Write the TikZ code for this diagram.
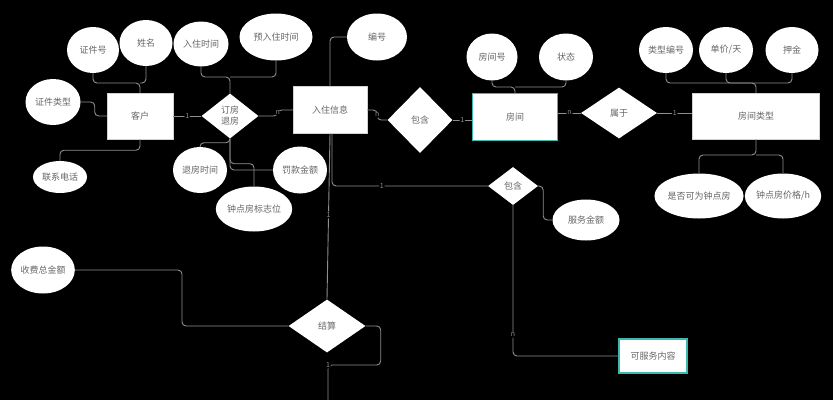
\documentclass[tikz,border=0pt]{standalone}
\usepackage{fontspec}
\setmainfont{Noto Sans CJK SC}
\usepackage{tikz}
\usetikzlibrary{shapes.geometric,positioning}

\definecolor{linegray}{HTML}{8E8E8E}
\definecolor{textgray}{HTML}{666666}
\definecolor{tealline}{HTML}{3DB8AE}

\begin{document}
\begin{tikzpicture}[
		x=1pt, y=-1pt,
		every node/.style={font=\fontsize{9}{11}\selectfont, text=textgray},
		entity/.style={draw=gray!35, fill=white, inner sep=0pt},
		keyentity/.style={entity, draw=tealline, line width=1.2pt},
		relation/.style={diamond, fill=white, inner sep=0pt, align=center},
		attribute/.style={ellipse, fill=white, inner sep=0pt},
		conn/.style={draw=linegray, line width=0.9pt, rounded corners=4pt},
		card/.style={fill=black, text=linegray, font=\fontsize{7}{8}\selectfont, inner sep=1pt}
	]
		\fill[black] (0,0) rectangle (833,400);
		\useasboundingbox (0,0) rectangle (833,400);

		% entities and relations
		\node[entity, minimum width=66pt, minimum height=46pt] (kehu) at (140,116) {客户};
		\node[relation, minimum width=57pt, minimum height=45pt] (dingfang) at (230,116) {订房\\退房};
		\node[entity, minimum width=74pt, minimum height=47pt] (ruzhu) at (330,110) {入住信息};
		\node[relation, minimum width=65pt, minimum height=66pt] (baohanA) at (420,120) {包含};
		\node[keyentity, minimum width=85pt, minimum height=47pt] (fangjian) at (515,117) {房间};
		\node[relation, minimum width=76pt, minimum height=51pt] (shuyu) at (619,113) {属于};
		\node[entity, minimum width=127pt, minimum height=46pt] (leixing) at (756,116) {房间类型};
		\node[relation, minimum width=50pt, minimum height=38pt] (baohanB) at (513,186) {包含};
		\node[relation, minimum width=77pt, minimum height=53pt] (jiesuan) at (327,326) {结算};
		\node[keyentity, minimum width=68pt, minimum height=34pt] (fuwu) at (653,356) {可服务内容};

		% attributes
		\node[attribute, minimum width=52pt, minimum height=46pt] (zjhao) at (93,50) {证件号};
		\node[attribute, minimum width=53pt, minimum height=46pt] (xingming) at (146,43) {姓名};
		\node[attribute, minimum width=55pt, minimum height=46pt] (zjlx) at (53,102) {证件类型};
		\node[attribute, minimum width=54pt, minimum height=32pt] (dianhua) at (60,177) {联系电话};
		\node[attribute, minimum width=55pt, minimum height=45pt] (rzsj) at (201,44) {入住时间};
		\node[attribute, minimum width=73pt, minimum height=47pt] (yrzsj) at (276,37) {预入住时间};
		\node[attribute, minimum width=60pt, minimum height=47pt] (bianhao) at (377,37) {编号};
		\node[attribute, minimum width=54pt, minimum height=46pt] (tfsj) at (200,170) {退房时间};
		\node[attribute, minimum width=54pt, minimum height=47pt] (fakuan) at (300,170) {罚款金额};
		\node[attribute, minimum width=68pt, minimum height=45pt] (zdbz) at (254,209) {钟点房标志位};
		\node[attribute, minimum width=51pt, minimum height=47pt] (fjhao) at (492,57) {房间号};
		\node[attribute, minimum width=54pt, minimum height=47pt] (zhuangtai) at (566,57) {状态};
		\node[attribute, minimum width=54pt, minimum height=46pt] (lxbh) at (666,50) {类型编号};
		\node[attribute, minimum width=54pt, minimum height=46pt] (danjia) at (726,50) {单价/天};
		\node[attribute, minimum width=53pt, minimum height=46pt] (yajin) at (792,50) {押金};
		\node[attribute, minimum width=79pt, minimum height=45pt] (kezdf) at (699,196) {是否可为钟点房};
		\node[attribute, minimum width=73pt, minimum height=45pt] (zdjg) at (783,196) {钟点房价格/h};
		\node[attribute, minimum width=67pt, minimum height=41pt] (fwje) at (586,220) {服务金额};
		\node[attribute, minimum width=60pt, minimum height=47pt] (zongjine) at (43,270) {收费总金额};

		% junction points
		\coordinate (kehu-top) at (140,83);
		\coordinate (dingfang-top) at (230,77);
		\coordinate (fangjian-top) at (515,87);
		\coordinate (leixing-top) at (756,83);
		\coordinate (leixing-bot) at (756,155);
		\coordinate (jiesuan-turn) at (328,365);
		\coordinate (jiesuan-out) at (328,400);

		% customer
		\draw[conn] (zjhao.south) |- (kehu-top) -- (kehu.north);
		\draw[conn] (xingming.south) |- (kehu-top);
		\draw[conn] (zjlx.east) -- ++(14,0) |- (kehu.west);
		\draw[conn] (kehu.south) -- ++(0,11) -| (dianhua.north);
		\draw[conn] (kehu.east) -- node[card] {1} (dingfang.west);

		% booking
		\draw[conn] (rzsj.south) |- (dingfang-top) -- (dingfang.north);
		\draw[conn] (yrzsj.south) |- (dingfang-top);
		\draw[conn] (dingfang.south) -- ++(0,4) -| (tfsj.north);
		\draw[conn] (dingfang.south) |- (fakuan.west);
		\draw[conn] (dingfang.south) -- ++(0,25) -| (zdbz.north);
		\draw[conn] (dingfang.east) -- ++(19,0) |- node[card, pos=0.25] {n} (ruzhu.west);

		% check-in
		\draw[conn] (ruzhu.north) |- (bianhao.west);
		\draw[conn] (ruzhu.east) -- ++(10,0) |- node[card, pos=0.25] {n} (baohanA.west);
		\draw[conn] ([xshift=2pt]ruzhu.south) |- node[card, pos=0.66] {1} (baohanB.west);
		\draw[conn] (ruzhu.south) -- node[card, pos=0.49] {1} (jiesuan.north);

		% room
		\draw[conn] (baohanA.east) -- node[card] {1} (baohanA.east -| fangjian.west);
		\draw[conn] (fjhao.south) |- (fangjian-top) -- (fangjian.north);
		\draw[conn] (zhuangtai.south) |- (fangjian-top);
		\draw[conn] (shuyu.west -| fangjian.east) -- node[card] {n} (shuyu.west);
		\draw[conn] (shuyu.east) -- node[card] {1} (shuyu.east -| leixing.west);

		% room type
		\draw[conn] (lxbh.south) |- (leixing-top) -- (leixing.north);
		\draw[conn] (danjia.south) |- (leixing-top);
		\draw[conn] (yajin.south) |- (leixing-top);
		\draw[conn] (leixing.south) -- (leixing-bot) -| (kezdf.north);
		\draw[conn] (leixing-bot) -| (zdjg.north);

		% services
		\draw[conn] (baohanB.east) -- ++(5,0) |- (fwje.west);
		\draw[conn] (baohanB.south) |- node[card, pos=0.43] {n} (fuwu.west);

		% settlement
		\draw[conn] (zongjine.east) -- ++(107,0) |- (jiesuan.west);
		\draw[conn] (jiesuan.east) -| ++(15,39) -- node[card, pos=1] {1} (jiesuan-turn) -- (jiesuan-out);
	\end{tikzpicture}
\end{document}
